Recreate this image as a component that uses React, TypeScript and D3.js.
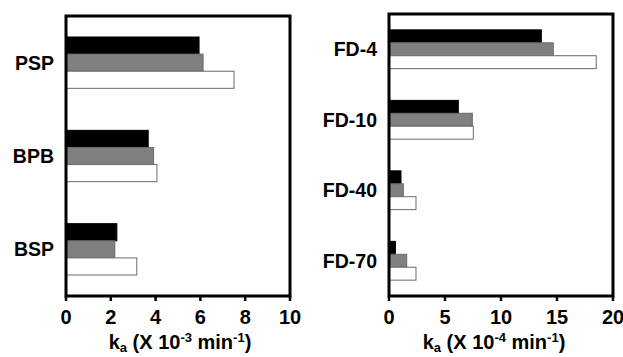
import React from "react";
import * as d3 from "d3";

// left panel: dyes, k_a (X 10^-3 min^-1)
const dyeNames = ["PSP", "BPB", "BSP"];
const dyeBlack = [5.94, 3.67, 2.27];
const dyeGray = [6.12, 3.91, 2.18];
const dyeWhite = [7.5, 4.06, 3.16];
const dyeTicks = [0, 2, 4, 6, 8, 10];

// right panel: dextrans, k_a (X 10^-4 min^-1)
const fdNames = ["FD-4", "FD-10", "FD-40", "FD-70"];
const fdBlack = [13.6, 6.19, 1.07, 0.57];
const fdGray = [14.67, 7.44, 1.28, 1.58];
const fdWhite = [18.5, 7.53, 2.41, 2.41];
const fdTicks = [0, 5, 10, 15, 20];

const seriesStyle = [
  { fill: "#000000", stroke: "#000000" },
  { fill: "#808080", stroke: "#6a6a6a" },
  { fill: "#ffffff", stroke: "#6a6a6a" },
];

const font = "'Liberation Sans', Arial, Helvetica, sans-serif";

type PanelProps = {
  names: string[];
  series: number[][];
  ticks: number[];
  x0: number;
  x1: number;
  y0: number;
  y1: number;
  exp: string;
  titleX: number;
};

const Panel = ({ names, series, ticks, x0, x1, y0, y1, exp, titleX }: PanelProps) => {
  const x = d3.scaleLinear().domain([ticks[0], ticks[ticks.length - 1]]).range([x0, x1]);
  const y = d3.scaleBand().domain(names).range([y0, y1]).paddingInner(0.45).paddingOuter(0.225);
  const inner = d3
    .scaleBand()
    .domain(series.map((_, i) => String(i)))
    .range([0, y.bandwidth()]);

  return (
    <g>
      {names.map((name, ci) => (
        <g key={name}>
          {series.map((s, si) => (
            <rect
              key={si}
              x={x(0)}
              y={(y(name) as number) + (inner(String(si)) as number)}
              width={x(s[ci]) - x(0)}
              height={inner.bandwidth()}
              fill={seriesStyle[si].fill}
              stroke={seriesStyle[si].stroke}
              strokeWidth={1}
            />
          ))}
          <text
            x={x0 - 12}
            y={(y(name) as number) + y.bandwidth() / 2}
            textAnchor="end"
            dominantBaseline="central"
            fontSize={19.5}
            fontWeight="bold"
            fontFamily={font}
          >
            {name}
          </text>
        </g>
      ))}
      {/* frame */}
      <rect x={x0} y={y0} width={x1 - x0} height={y1 - y0} fill="none" stroke="#000" strokeWidth={3} />
      {ticks.map((t) => (
        <g key={t}>
          <line x1={x(t)} x2={x(t)} y1={y1} y2={y1 + 5} stroke="#000" strokeWidth={2.5} />
          <text
            x={x(t)}
            y={y1 + 28}
            textAnchor="middle"
            fontSize={20}
            fontWeight="bold"
            fontFamily={font}
          >
            {t}
          </text>
        </g>
      ))}
      <text x={titleX} y={y1 + 53} textAnchor="middle" fontSize={20} fontWeight="bold" fontFamily={font}>
        k
        <tspan fontSize={13} dy={3}>a</tspan>
        <tspan dy={-3}> (X 10</tspan>
        <tspan fontSize={13} dy={-7}>{exp}</tspan>
        <tspan dy={7}> min</tspan>
        <tspan fontSize={13} dy={-7}>-1</tspan>
        <tspan dy={7}>)</tspan>
      </text>
    </g>
  );
};

const App = () => {
  return (
    <svg width={623} height={357} style={{ position: "absolute", left: 0, top: 0, background: "#fff" }}>
      <rect width={623} height={357} fill="#fff" />
      <Panel
        names={dyeNames}
        series={[dyeBlack, dyeGray, dyeWhite]}
        ticks={dyeTicks}
        x0={66}
        x1={290}
        y0={16}
        y1={296}
        exp="-3"
        titleX={180}
      />
      <Panel
        names={fdNames}
        series={[fdBlack, fdGray, fdWhite]}
        ticks={fdTicks}
        x0={389}
        x1={613}
        y0={14}
        y1={296}
        exp="-4"
        titleX={494}
      />
    </svg>
  );
};

export default App;
